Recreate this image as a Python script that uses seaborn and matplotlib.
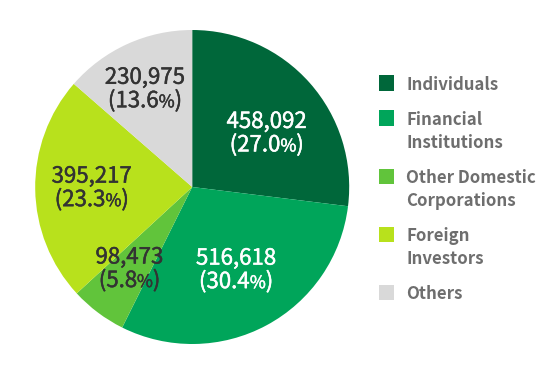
import numpy as np
import matplotlib
matplotlib.use("Agg")
import matplotlib.pyplot as plt
import matplotlib.patheffects as pe
import seaborn as sns
from matplotlib.patches import Rectangle
from matplotlib.transforms import offset_copy

# data
categories = ["Individuals", "Financial\nInstitutions", "Other Domestic\nCorporations",
              "Foreign\nInvestors", "Others"]
shares = [458092, 516618, 98473, 395217, 230975]
percents = [27.0, 30.4, 5.8, 23.3, 13.6]
colors = ["#00673a", "#00a55a", "#61c43b", "#b8e11c", "#d9d9d9"]
label_colors = ["white", "white", "#333333", "#333333", "#333333"]
# label placement (fraction of radius, angle tweak in degrees)
label_r = [0.59, 0.59, 0.65, 0.64, 0.70]
label_dang = [-5, 0, -1, -1, 1]

sns.set_theme(style="white")
plt.rcParams['font.family'] = ['Noto Sans CJK KR', 'DejaVu Sans']

fig = plt.figure(figsize=(5.37, 3.74), dpi=100)
ax = fig.add_axes([35.2 / 537, 30 / 374, 314 / 537, 314 / 374])

wedges, _ = ax.pie(shares, colors=colors, startangle=90, counterclock=False,
                   radius=1.0, wedgeprops=dict(linewidth=0))
ax.set_xlim(-1, 1)
ax.set_ylim(-1, 1)
ax.set_aspect("equal")
ax.axis("off")

renderer = fig.canvas.get_renderer()


def centered_line(x, y, dy, parts, color):
    # draw a line of text made of pieces with different sizes, centred on x
    texts = [ax.text(x, y, s, fontsize=fs, color=color, ha="left", va="baseline",
                     path_effects=[pe.withStroke(linewidth=0.35, foreground=color)])
             for s, fs in parts]
    widths = [t.get_window_extent(renderer).width for t in texts]
    off = -sum(widths) / 2
    for t, w in zip(texts, widths):
        t.set_transform(offset_copy(ax.transData, fig=fig, x=off, y=dy, units="dots"))
        off += w


# value labels inside the slices
fs = 16
for w, val, pct, tc, r, da in zip(wedges, shares, percents, label_colors, label_r, label_dang):
    ang = np.deg2rad((w.theta1 + w.theta2) / 2 + da)
    x, y = r * np.cos(ang), r * np.sin(ang)
    centered_line(x, y, 4, [(f"{val:,}", fs)], tc)
    centered_line(x, y, -19.5, [(f"({pct:.1f}", fs), ("%", fs * 0.78), (")", fs)], tc)

# legend on the right
base = 90
for cat, col in zip(categories, colors):
    lines = cat.split("\n")
    fig.patches.append(Rectangle((379 / 537, 1 - (base + 0.5) / 374), 15 / 537, 15 / 374,
                                 transform=fig.transFigure, color=col, linewidth=0))
    for i, ln in enumerate(lines):
        fig.text(406 / 537, 1 - (base + 23 * i) / 374, ln, ha="left", va="baseline",
                 color="#6e6e6e", fontsize=12.1, fontweight="bold")
    base += 23 * (len(lines) - 1) + 35

fig.savefig("out.png", dpi=100)
